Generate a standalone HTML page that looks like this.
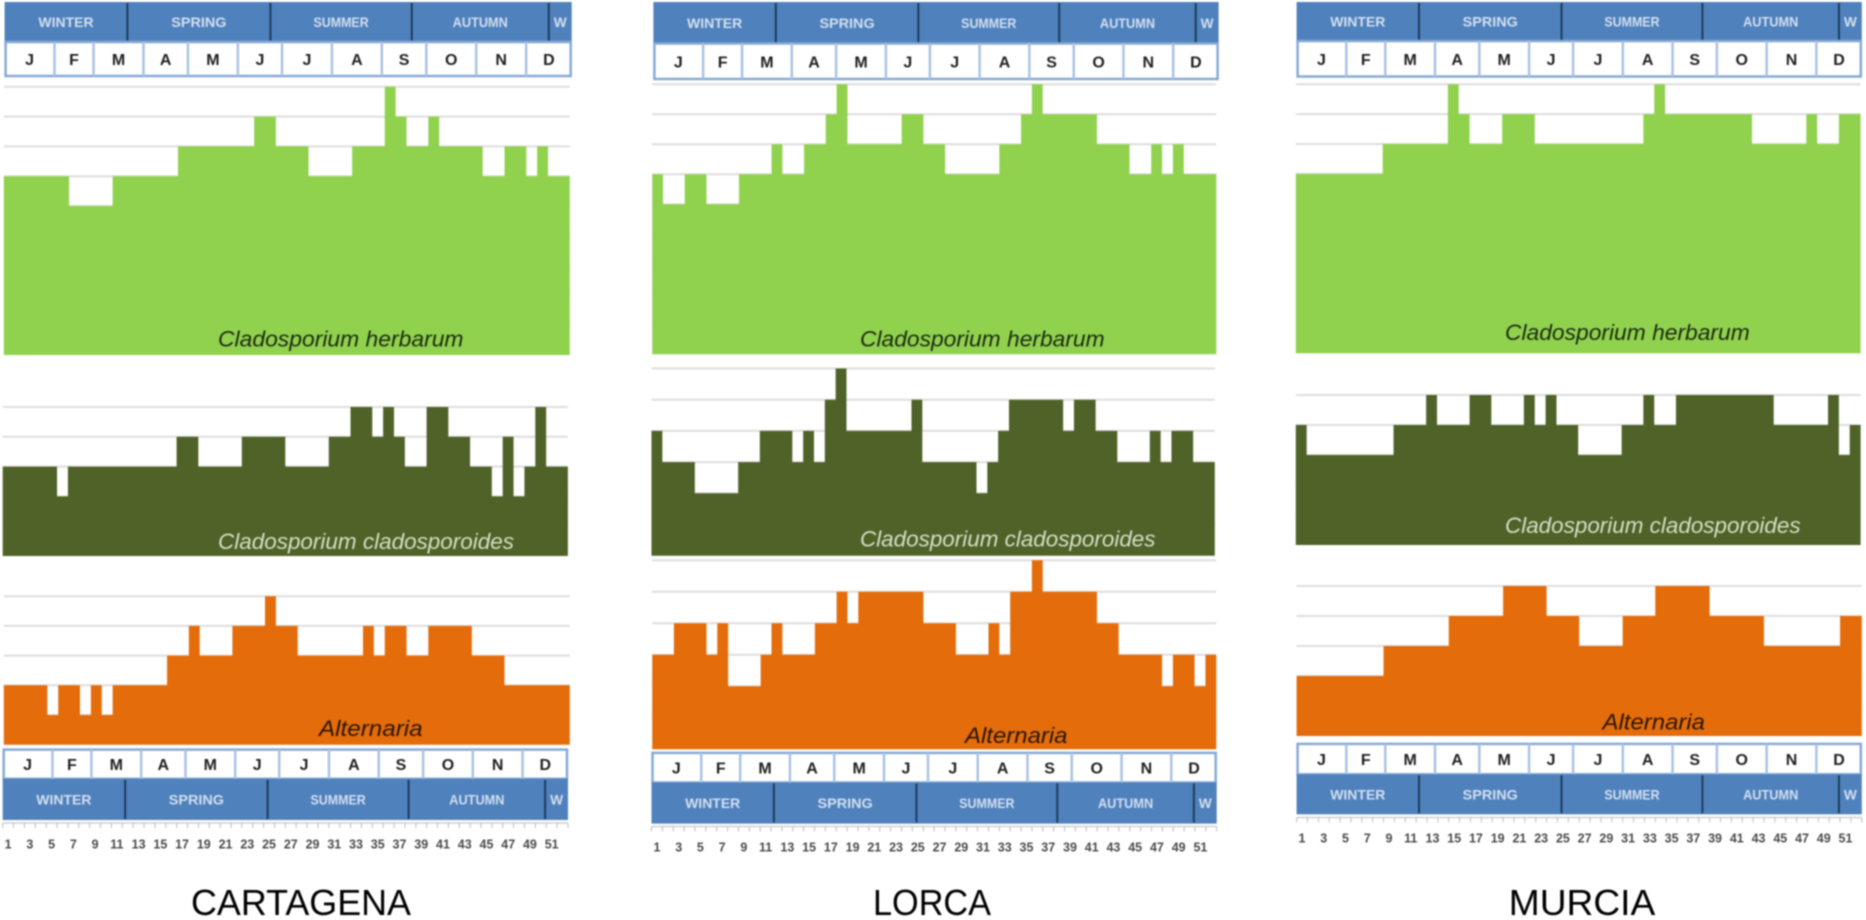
<!DOCTYPE html>
<html lang="en">
<head>
<meta charset="utf-8">
<title>Weekly fungal spore calendars: Cartagena, Lorca, Murcia</title>
<style>
html,body{margin:0;padding:0;background:#fff;width:1866px;height:920px;overflow:hidden}
svg{display:block;filter:blur(0.75px)}
text{font-family:"Liberation Sans",sans-serif}
</style>
</head>
<body>
<svg id="chart" xmlns="http://www.w3.org/2000/svg" width="1866" height="920" viewBox="0 0 1866 920">
<rect x="0" y="0" width="1866" height="920" fill="#ffffff"/>
</svg>
<script>
// ---- data: weekly class level per taxon ----
const cartagenaHerbarum = [6,6,6,6,6,6,5,5,5,5,6,6,6,6,6,6,7,7,7,7,7,7,7,8,8,7,7,7,6,6,6,6,7,7,7,9,8,7,7,8,7,7,7,7,6,6,7,7,6,7,6,6];
const cartagenaCladosporoides = [3,3,3,3,3,2,3,3,3,3,3,3,3,3,3,3,4,4,3,3,3,3,4,4,4,4,3,3,3,3,4,4,5,5,4,5,4,3,3,5,5,4,4,3,3,2,4,2,3,5,3,3];
const cartagenaAlternaria = [2,2,2,2,1,2,2,1,2,1,2,2,2,2,2,3,3,4,3,3,3,4,4,4,5,4,4,3,3,3,3,3,3,4,3,4,4,3,3,4,4,4,4,3,3,3,2,2,2,2,2,2];
const lorcaHerbarum = [6,5,5,6,6,5,5,5,6,6,6,7,6,6,7,7,8,9,7,7,7,7,7,8,8,7,7,6,6,6,6,6,7,7,8,9,8,8,8,8,8,7,7,7,6,6,7,6,7,6,6,6];
const lorcaCladosporoides = [4,3,3,3,2,2,2,2,3,3,4,4,4,3,4,3,5,6,4,4,4,4,4,4,5,3,3,3,3,3,2,3,4,5,5,5,5,5,4,5,5,4,4,3,3,3,4,3,4,4,3,3];
const lorcaAlternaria = [3,3,4,4,4,3,4,2,2,2,3,4,3,3,3,4,4,5,4,5,5,5,5,5,5,4,4,4,3,3,3,4,3,5,5,6,5,5,5,5,5,4,4,3,3,3,3,2,3,3,2,3];
const murciaHerbarum = [6,6,6,6,6,6,6,6,7,7,7,7,7,7,9,8,7,7,7,8,8,8,7,7,7,7,7,7,7,7,7,7,8,9,8,8,8,8,8,8,8,8,7,7,7,7,7,8,7,7,8,8];
const murciaCladosporoides = [4,3,3,3,3,3,3,3,3,4,4,4,5,4,4,4,5,5,4,4,4,5,4,5,4,4,3,3,3,3,4,4,5,4,4,5,5,5,5,5,5,5,5,5,4,4,4,4,4,5,3,4];
const murciaAlternaria = [2,2,2,2,2,2,2,2,3,3,3,3,3,3,4,4,4,4,4,5,5,5,5,4,4,4,3,3,3,3,4,4,4,5,5,5,5,5,4,4,4,4,4,3,3,3,3,3,3,3,4,4];

// ---- calendar labels ----
const monthLabels = ["J","F","M","A","M","J","J","A","S","O","N","D"];
const monthSpans = [4.6,3.6,4.6,4.1,4.6,4.07,4.6,4.6,4.1,4.6,4.6,4.2];
const seasonLabels = ["WINTER","SPRING","SUMMER","AUTUMN","W"];
const seasonSpans = [11.25,13.1,12.95,12.55,2.1];
const weekLabels = [1,3,5,7,9,11,13,15,17,19,21,23,25,27,29,31,33,35,37,39,41,43,45,47,49,51];

const WEEKS = 52;
const NS = "http://www.w3.org/2000/svg";
const root = document.getElementById("chart");

function make(tag, parent, attrs) {
  const el = document.createElementNS(NS, tag);
  for (const k in attrs) el.setAttribute(k, attrs[k]);
  parent.appendChild(el);
  return el;
}
function sum(a) { return a.reduce(function (s, v) { return s + v; }, 0); }

// axis functions
function xAxis(left, right) { return function (week) { return left + (right - left) * week / WEEKS; }; }
function yAxis(base, step) { return function (level) { return base - level * step; }; }

function drawArea(parent, name, values, layout, color, topLevel) {
  const x = xAxis(layout.left, layout.right);
  const y = yAxis(layout.base, layout.step);
  for (let lv = 1; lv <= topLevel; lv++) {
    const grid = make("line", parent, {x1: x(0), x2: x(WEEKS), y1: y(lv), y2: y(lv), stroke: "#dedede", "stroke-width": 2});
    
    
  }
  let d = "M" + x(0) + " " + y(0);
  values.forEach(function (v, i) {
    d += " L" + x(i) + " " + y(v) + " L" + x(i + 1) + " " + y(v);
  });
  d += " L" + x(WEEKS) + " " + y(0) + " Z";
  const area = make("path", parent, {d: d, fill: color});
  
  
}

function drawLabel(parent, name, content, left, right, baseline, color) {
  const t = make("text", parent, {x: left, y: baseline, "font-size": 22, "font-style": "italic", fill: color, textLength: right - left, lengthAdjust: "spacingAndGlyphs"});
  t.textContent = content;
  
  
}

function drawSeasons(parent, name, left, right, top, bottom) {
  const band = make("rect", parent, {x: left, y: top, width: right - left, height: bottom - top, fill: "#4f81bd"});
  
  
  const total = sum(seasonSpans);
  let pos = left;
  seasonLabels.forEach(function (label, i) {
    const w = (right - left) * seasonSpans[i] / total;
    const t = make("text", parent, {x: pos + w / 2, y: (top + bottom) / 2 + 5, "font-size": 14, "font-weight": "bold", "text-anchor": "middle", fill: "#d3dfee", textLength: label === "W" ? 13 : label.length * 9.2, lengthAdjust: "spacingAndGlyphs"});
    t.textContent = label;
    
    
    pos += w;
    if (i < seasonLabels.length - 1) {
      const sep = make("line", parent, {x1: pos, x2: pos, y1: top + 1, y2: bottom - 1, stroke: "#1d3a5c", "stroke-width": 2});
      
      
    }
  });
}

function drawMonths(parent, name, left, right, top, bottom) {
  const row = make("rect", parent, {x: left + 1, y: top, width: right - left - 2, height: bottom - top, fill: "#ffffff", stroke: "#86a9d6", "stroke-width": 2.5});
  
  
  const total = sum(monthSpans);
  let pos = left;
  monthLabels.forEach(function (label, i) {
    const w = (right - left) * monthSpans[i] / total;
    const t = make("text", parent, {x: pos + w / 2, y: (top + bottom) / 2 + 6, "font-size": 16, "font-weight": "bold", "text-anchor": "middle", fill: "#1f1f1f"});
    t.textContent = label;
    
    
    pos += w;
    if (i < monthLabels.length - 1) {
      const sep = make("line", parent, {x1: pos, x2: pos, y1: top, y2: bottom, stroke: "#a9c3e3", "stroke-width": 2.5});
      
      
    }
  });
}

function drawWeekAxis(parent, name, left, right, tickTop, labelY) {
  const x = xAxis(left, right);
  const axis = make("line", parent, {x1: left, x2: right, y1: tickTop, y2: tickTop, stroke: "#d0d0d0", "stroke-width": 1.5});
  
  
  for (let w = 0; w <= WEEKS; w++) {
    const tick = make("line", parent, {x1: x(w), x2: x(w), y1: tickTop, y2: tickTop + 5, stroke: "#bdbdbd", "stroke-width": 1});
    
    
  }
  weekLabels.forEach(function (wk) {
    const t = make("text", parent, {x: x(wk - 0.5), y: labelY + 5, "font-size": 12.5, "font-weight": "bold", "text-anchor": "middle", fill: "#4a4a4a"});
    t.textContent = wk;
    
    
  });
}

function group(name) {
  const g = make("g", root, {});
  
  
  return g;
}

const GREEN = "#90d24e", DARK = "#4f6228", ORANGE = "#e46c0a";
const INK = "#1c2a12", PALE = "#d5dfc6", INK2 = "#2a1604";

// ---- CARTAGENA ----
const gc = group("cartagena-panel");
drawSeasons(gc, "cartagena-top", 4.6, 571.7, 2, 41.5);
drawMonths(gc, "cartagena-top", 4.6, 571.7, 42, 76);
drawArea(gc, "cartagena-herbarum", cartagenaHerbarum, {left: 3.8, right: 569.8, base: 355, step: 29.8}, GREEN, 9);
drawLabel(gc, "cartagena-herbarum", "Cladosporium herbarum", 218, 463.5, 346.5, INK);
drawArea(gc, "cartagena-cladosporoides", cartagenaCladosporoides, {left: 2.7, right: 567.9, base: 556, step: 29.8}, DARK, 5);
drawLabel(gc, "cartagena-cladosporoides", "Cladosporium cladosporoides", 218, 514, 549, PALE);
drawArea(gc, "cartagena-alternaria", cartagenaAlternaria, {left: 3.8, right: 569.8, base: 744.7, step: 29.7}, ORANGE, 5);
drawLabel(gc, "cartagena-alternaria", "Alternaria", 319, 422.6, 736, INK2);
drawMonths(gc, "cartagena-bottom", 2.7, 568, 749.6, 778.8);
drawSeasons(gc, "cartagena-bottom", 2.7, 568, 778.8, 820);
drawWeekAxis(gc, "cartagena", 2.7, 568, 823, 843.5);

// ---- LORCA ----
const gl = group("lorca-panel");
drawSeasons(gl, "lorca-top", 653.4, 1218.6, 2, 43.5);
drawMonths(gl, "lorca-top", 653.4, 1218.6, 43.5, 79);
drawArea(gl, "lorca-herbarum", lorcaHerbarum, {left: 652.2, right: 1216.3, base: 354.3, step: 30}, GREEN, 9);
drawLabel(gl, "lorca-herbarum", "Cladosporium herbarum", 860, 1104.6, 346.5, INK);
drawArea(gl, "lorca-cladosporoides", lorcaCladosporoides, {left: 651.5, right: 1214.8, base: 555.7, step: 31.2}, DARK, 6);
drawLabel(gl, "lorca-cladosporoides", "Cladosporium cladosporoides", 860, 1155.5, 546.5, PALE);
drawArea(gl, "lorca-alternaria", lorcaAlternaria, {left: 652.2, right: 1216.3, base: 749.3, step: 31.5}, ORANGE, 6);
drawLabel(gl, "lorca-alternaria", "Alternaria", 965, 1067.5, 743, INK2);
drawMonths(gl, "lorca-bottom", 651.5, 1216.7, 752.9, 782.5);
drawSeasons(gl, "lorca-bottom", 651.5, 1216.7, 782.5, 823.6);
drawWeekAxis(gl, "lorca", 651.5, 1216.7, 826.5, 846.4);

// ---- MURCIA ----
const gm = group("murcia-panel");
drawSeasons(gm, "murcia-top", 1296.6, 1861.8, 2, 41);
drawMonths(gm, "murcia-top", 1296.6, 1861.8, 41, 76.5);
drawArea(gm, "murcia-herbarum", murciaHerbarum, {left: 1295.8, right: 1860.6, base: 353.3, step: 29.9}, GREEN, 9);
drawLabel(gm, "murcia-herbarum", "Cladosporium herbarum", 1505, 1749.7, 340, INK);
drawArea(gm, "murcia-cladosporoides", murciaCladosporoides, {left: 1295.8, right: 1860.6, base: 545, step: 30}, DARK, 5);
drawLabel(gm, "murcia-cladosporoides", "Cladosporium cladosporoides", 1505, 1800.6, 533, PALE);
drawArea(gm, "murcia-alternaria", murciaAlternaria, {left: 1296.6, right: 1861.8, base: 736, step: 30}, ORANGE, 5);
drawLabel(gm, "murcia-alternaria", "Alternaria", 1602.5, 1705, 729.6, INK2);
drawMonths(gm, "murcia-bottom", 1296.6, 1861.8, 743.9, 774.3);
drawSeasons(gm, "murcia-bottom", 1296.6, 1861.8, 774.3, 814.3);
drawWeekAxis(gm, "murcia", 1296.6, 1861.8, 817.5, 837.5);

// ---- city titles ----
const titleCartagena = make("text", root, {x: 301, y: 915, "font-size": 36, "text-anchor": "middle", fill: "#000000", textLength: 220, lengthAdjust: "spacingAndGlyphs"});
titleCartagena.textContent = "CARTAGENA";


const titleLorca = make("text", root, {x: 932, y: 915, "font-size": 36, "text-anchor": "middle", fill: "#000000", textLength: 118, lengthAdjust: "spacingAndGlyphs"});
titleLorca.textContent = "LORCA";


const titleMurcia = make("text", root, {x: 1582, y: 915, "font-size": 36, "text-anchor": "middle", fill: "#000000", textLength: 146.5, lengthAdjust: "spacingAndGlyphs"});
titleMurcia.textContent = "MURCIA";


</script>
</body>
</html>
